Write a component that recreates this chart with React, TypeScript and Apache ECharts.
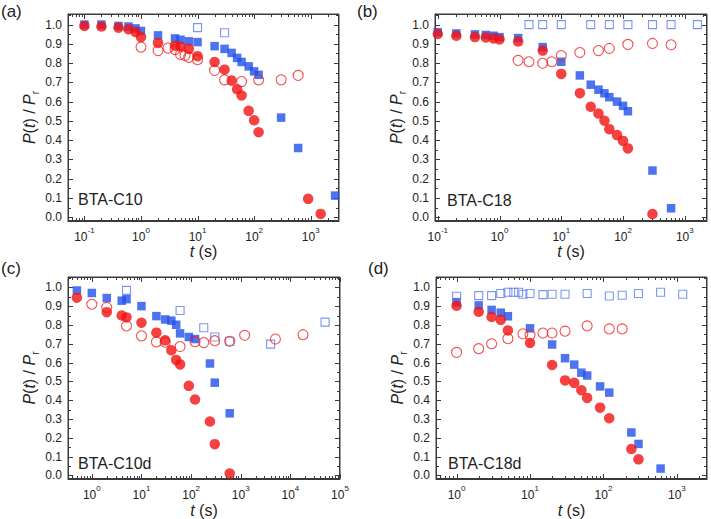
import React, { useEffect, useRef } from "react";
import * as echarts from "echarts";

// ---------- DATA (t in seconds, P(t)/Pr) ----------
// Panel (a) BTA-C10
const aFilledSqT = [0.1, 0.2, 0.4, 0.6, 0.8, 1, 2, 4, 5, 7, 10, 20, 30, 40, 50, 60, 80, 100, 120, 300, 600, 2700];
const aFilledSqY = [1.0, 1.0, 0.993, 0.99, 0.98, 0.967, 0.944, 0.928, 0.921, 0.913, 0.909, 0.888, 0.874, 0.853, 0.827, 0.806, 0.783, 0.757, 0.739, 0.517, 0.359, 0.112];
const aOpenSqT = [10, 30];
const aOpenSqY = [0.984, 0.958];
const aFilledCirT = [0.1, 0.2, 0.4, 0.6, 0.8, 1, 2, 4, 5, 7, 10, 20, 30, 40, 50, 60, 80, 100, 120, 900, 1500];
const aFilledCirY = [0.993, 0.99, 0.984, 0.976, 0.962, 0.935, 0.905, 0.89, 0.885, 0.874, 0.836, 0.806, 0.766, 0.709, 0.664, 0.632, 0.552, 0.503, 0.441, 0.095, 0.017];
const aOpenCirT = [1, 2, 3, 4, 5, 6, 7, 10, 20, 30, 60, 120, 300, 600];
const aOpenCirY = [0.883, 0.865, 0.878, 0.87, 0.845, 0.84, 0.83, 0.818, 0.762, 0.713, 0.704, 0.713, 0.713, 0.736];

// Panel (b) BTA-C18
const bFilledSqT = [0.1, 0.2, 0.4, 0.6, 0.8, 1, 2, 5, 10, 20, 30, 40, 50, 60, 80, 100, 120, 300, 600];
const bFilledSqY = [0.96, 0.954, 0.949, 0.946, 0.942, 0.935, 0.93, 0.883, 0.807, 0.736, 0.688, 0.662, 0.643, 0.623, 0.6, 0.578, 0.55, 0.242, 0.046];
const bOpenSqT = [3, 5, 10, 30, 60, 120, 300, 600, 1600];
const bOpenSqY = [1.0, 1.0, 1.0, 1.0, 1.0, 1.0, 1.0, 1.0, 1.0];
const bFilledCirT = [0.1, 0.2, 0.4, 0.6, 0.8, 1, 2, 5, 10, 20, 30, 40, 50, 60, 80, 100, 120, 300];
const bFilledCirY = [0.951, 0.942, 0.935, 0.933, 0.928, 0.923, 0.912, 0.865, 0.744, 0.644, 0.573, 0.538, 0.501, 0.457, 0.426, 0.396, 0.357, 0.016];
const bOpenCirT = [2, 3, 5, 7, 10, 20, 40, 60, 120, 300, 600];
const bOpenCirY = [0.814, 0.807, 0.799, 0.807, 0.839, 0.855, 0.865, 0.876, 0.897, 0.902, 0.895];

// Panel (c) BTA-C10d
const cFilledSqT = [0.5, 1, 2, 4, 5, 10, 20, 30, 40, 50, 60, 90, 120, 240, 300, 600];
const cFilledSqY = [0.983, 0.97, 0.943, 0.929, 0.937, 0.9, 0.847, 0.829, 0.823, 0.801, 0.755, 0.736, 0.725, 0.595, 0.493, 0.33];
const cOpenSqT = [5, 60, 180, 300, 600, 4000, 50000];
const cOpenSqY = [0.984, 0.877, 0.785, 0.736, 0.713, 0.698, 0.815];
const cFilledCirT = [0.5, 2, 4, 5, 10, 20, 30, 40, 50, 60, 90, 120, 240, 300, 600];
const cFilledCirY = [0.945, 0.868, 0.85, 0.84, 0.812, 0.759, 0.718, 0.665, 0.614, 0.59, 0.476, 0.403, 0.286, 0.166, 0.01];
const cOpenCirT = [1, 2, 5, 10, 20, 30, 60, 120, 180, 300, 600, 1200, 5000, 18000];
const cOpenCirY = [0.91, 0.893, 0.795, 0.742, 0.71, 0.708, 0.685, 0.711, 0.706, 0.716, 0.713, 0.745, 0.725, 0.748];

// Panel (d) BTA-C18d
const dFilledSqT = [1, 2, 3, 4, 5, 10, 20, 30, 40, 50, 60, 90, 120, 240, 300, 600];
const dFilledSqY = [0.921, 0.904, 0.88, 0.865, 0.846, 0.782, 0.696, 0.623, 0.589, 0.546, 0.531, 0.473, 0.44, 0.228, 0.167, 0.036];
const dOpenSqT = [1, 2, 3, 4, 5, 6, 7, 8, 10, 15, 20, 30, 60, 120, 180, 300, 600, 1200];
const dOpenSqY = [0.953, 0.956, 0.956, 0.967, 0.974, 0.974, 0.974, 0.963, 0.967, 0.961, 0.963, 0.963, 0.967, 0.954, 0.958, 0.967, 0.974, 0.963];
const dFilledCirT = [1, 2, 3, 4, 5, 10, 20, 30, 40, 50, 60, 90, 120, 240, 300];
const dFilledCirY = [0.902, 0.87, 0.842, 0.827, 0.771, 0.704, 0.587, 0.505, 0.492, 0.453, 0.412, 0.36, 0.304, 0.14, 0.085];
const dOpenCirT = [1, 2, 3, 5, 8, 10, 15, 20, 30, 60, 120, 180];
const dOpenCirY = [0.654, 0.674, 0.7, 0.727, 0.753, 0.745, 0.757, 0.757, 0.767, 0.795, 0.779, 0.779];

// Axis ranges (log10 of t) and tick labels
const xRanges = [
  [-1.29, 3.5],
  [-1.045, 3.36],
  [-0.48, 5.0],
  [-0.28, 3.41],
];
const yRange = [-0.02, 1.055];
const yTickLabels = [0, 0.1, 0.2, 0.3, 0.4, 0.5, 0.6, 0.7, 0.8, 0.9, 1.0];
const panelLetters = ["(a)", "(b)", "(c)", "(d)"];
const sampleNames = ["BTA-C10", "BTA-C18", "BTA-C10d", "BTA-C18d"];

// ---------- STYLE ----------
const FONT = "Liberation Sans, Arial, sans-serif";
const AXIS_COLOR = "#3a3a3a";
const BLUE = "#2150ea";
const BLUE_OPEN = "#5a7dee";
const RED = "#f41212";
const RED_OPEN = "#f02626";

const grids = [
  { left: 68, top: 14, width: 271, height: 207 },
  { left: 435, top: 14, width: 272, height: 207 },
  { left: 68, top: 277, width: 272, height: 205 },
  { left: 436, top: 277, width: 271, height: 205 },
];
const letterPos = [
  [1, 3],
  [357, 3],
  [1, 260],
  [368, 260],
];
const namePos = [
  [78, 191],
  [447, 192],
  [78, 455],
  [448, 455],
];

function majorLogs(min: number, max: number) {
  const out: number[] = [];
  for (let n = Math.ceil(min); n <= Math.floor(max + 1e-9); n++) out.push(n);
  return out;
}
function minorLogs(min: number, max: number) {
  const out: number[] = [];
  for (let n = Math.floor(min); n <= Math.ceil(max); n++) {
    for (let k = 2; k <= 9; k++) {
      const v = n + Math.log10(k);
      if (v > min && v < max) out.push(v);
    }
  }
  return out;
}
const yMajor = yTickLabels;
const yMinor = yTickLabels.map((v) => v + 0.05).filter((v) => v < yRange[1]);

function frameSeries(g: number) {
  const [xmin, xmax] = xRanges[g];
  const xMaj = majorLogs(xmin, xmax);
  const xMin = minorLogs(xmin, xmax);
  return {
    type: "custom",
    xAxisIndex: g,
    yAxisIndex: g,
    clip: false,
    silent: true,
    z: 1,
    data: [[xmin, yRange[0]]],
    renderItem: (_params: any, api: any) => {
      const p0 = api.coord([xmin, yRange[0]]);
      const p1 = api.coord([xmax, yRange[1]]);
      const L = Math.round(p0[0]) + 0.5;
      const R = Math.round(p1[0]) - 0.5;
      const B = Math.round(p0[1]) - 0.5;
      const T = Math.round(p1[1]) + 0.5;
      const style = { stroke: AXIS_COLOR, lineWidth: 1 };
      const children: any[] = [
        { type: "line", shape: { x1: L, y1: T, x2: R, y2: T }, style },
        { type: "line", shape: { x1: L, y1: B, x2: R, y2: B }, style },
        { type: "line", shape: { x1: L, y1: T, x2: L, y2: B }, style },
        { type: "line", shape: { x1: R, y1: T, x2: R, y2: B }, style },
      ];
      const vt = (v: number, len: number) => {
        const x = Math.round(api.coord([v, yRange[0]])[0]) + 0.5;
        children.push({ type: "line", shape: { x1: x, y1: B, x2: x, y2: B - len }, style });
        children.push({ type: "line", shape: { x1: x, y1: T, x2: x, y2: T + len }, style });
      };
      const ht = (v: number, len: number) => {
        const y = Math.round(api.coord([xmin, v])[1]) + 0.5;
        children.push({ type: "line", shape: { x1: L, y1: y, x2: L + len, y2: y }, style });
        children.push({ type: "line", shape: { x1: R, y1: y, x2: R - len, y2: y }, style });
      };
      xMaj.forEach((v) => vt(v, 4.5));
      xMin.forEach((v) => vt(v, 2.5));
      yMajor.forEach((v) => ht(v, 4.5));
      yMinor.forEach((v) => ht(v, 2.5));
      return { type: "group", children };
    },
  };
}

function App() {
  const ref = useRef<HTMLDivElement>(null);
  useEffect(() => {
    if (!ref.current) return;
    const chart = echarts.init(ref.current, null, { renderer: "svg" });

    const xAxis: any[] = [];
    const yAxis: any[] = [];

    grids.forEach((_, g) => {
      const [xmin, xmax] = xRanges[g];
      const xMaj = majorLogs(xmin, xmax);
      xAxis.push({
        type: "value",
        gridIndex: g,
        min: xmin,
        max: xmax,
        position: "bottom",
        splitLine: { show: false },
        axisLine: { show: true, onZero: false, lineStyle: { color: AXIS_COLOR, width: 1 } },
        axisTick: { show: false },
        axisLabel: {
          show: true,
          customValues: xMaj,
          margin: 5,
          color: "#222",
          fontFamily: FONT,
          formatter: (v: number) => `{b|10}{s|${Math.round(v)}}`,
          rich: {
            b: { fontSize: 12, fontFamily: FONT, color: "#222", verticalAlign: "bottom", lineHeight: 17 },
            s: { fontSize: 8, fontFamily: FONT, color: "#222", verticalAlign: "top", lineHeight: 17 },
          },
        },
        name: "{i|t} (s)",
        nameLocation: "middle",
        nameGap: 19,
        nameTextStyle: {
          fontSize: 16,
          fontFamily: FONT,
          color: "#222",
          rich: { i: { fontStyle: "italic", fontSize: 16, fontFamily: FONT, color: "#222" } },
        },
      });
      yAxis.push({
        type: "value",
        gridIndex: g,
        min: yRange[0],
        max: yRange[1],
        position: "left",
        splitLine: { show: false },
        axisLine: { show: true, onZero: false, lineStyle: { color: AXIS_COLOR, width: 1 } },
        axisTick: { show: false },
        axisLabel: {
          show: true,
          customValues: yMajor,
          margin: 6,
          fontSize: 12,
          fontFamily: FONT,
          color: "#222",
          formatter: (v: number) => v.toFixed(1),
        },
        name: "{i|P}({i|t}) / {i|P}{r|r}",
        nameLocation: "middle",
        nameRotate: 90,
        nameGap: 28,
        nameTextStyle: {
          fontSize: 16,
          fontFamily: FONT,
          color: "#222",
          rich: {
            i: { fontStyle: "italic", fontSize: 16, fontFamily: FONT, color: "#222" },
            r: { fontSize: 10, fontFamily: FONT, color: "#222", verticalAlign: "bottom", lineHeight: 22 },
          },
        },
      });
    });

    const panels = [
      [aFilledSqT, aFilledSqY, aOpenSqT, aOpenSqY, aOpenCirT, aOpenCirY, aFilledCirT, aFilledCirY],
      [bFilledSqT, bFilledSqY, bOpenSqT, bOpenSqY, bOpenCirT, bOpenCirY, bFilledCirT, bFilledCirY],
      [cFilledSqT, cFilledSqY, cOpenSqT, cOpenSqY, cOpenCirT, cOpenCirY, cFilledCirT, cFilledCirY],
      [dFilledSqT, dFilledSqY, dOpenSqT, dOpenSqY, dOpenCirT, dOpenCirY, dFilledCirT, dFilledCirY],
    ];
    const styles = [
      { symbol: "rect", symbolSize: 8.5, itemStyle: { color: BLUE } },
      { symbol: "rect", symbolSize: 8, itemStyle: { color: "rgba(255,255,255,0)", borderColor: BLUE_OPEN, borderWidth: 1.1 } },
      { symbol: "circle", symbolSize: 10, itemStyle: { color: "rgba(255,255,255,0)", borderColor: RED_OPEN, borderWidth: 1.1 } },
      { symbol: "circle", symbolSize: 10.5, itemStyle: { color: RED } },
    ];
    const series: any[] = [];
    panels.forEach((p, g) => {
      series.push(frameSeries(g));
      for (let k = 0; k < 4; k++) {
        const ts = p[k * 2];
        const ys = p[k * 2 + 1];
        series.push({
          type: "scatter",
          xAxisIndex: g,
          yAxisIndex: g,
          z: 2,
          data: ts.map((t, i) => [Math.log10(t), ys[i]]),
          ...styles[k],
        });
      }
    });

    const title: any[] = [];
    panelLetters.forEach((s, g) => {
      title.push({
        text: s,
        left: letterPos[g][0],
        top: letterPos[g][1],
        padding: 0,
        textStyle: { fontSize: 17, fontWeight: "normal", fontFamily: FONT, color: "#222" },
      });
      title.push({
        text: sampleNames[g],
        left: namePos[g][0],
        top: namePos[g][1],
        padding: 0,
        textStyle: { fontSize: 16, fontWeight: "normal", fontFamily: FONT, color: "#222" },
      });
    });

    chart.setOption({
      animation: false,
      backgroundColor: "#fff",
      title,
      grid: grids.map((gr) => ({
        ...gr,
        show: true,
        borderColor: AXIS_COLOR,
        borderWidth: 1,
        backgroundColor: "rgba(255,255,255,0)",
      })),
      xAxis,
      yAxis,
      series,
    });
    return () => chart.dispose();
  }, []);
  return (
    <div
      ref={ref}
      style={{ position: "absolute", left: 0, top: 0, width: 711, height: 519 }}
    />
  );
}

export default App;
